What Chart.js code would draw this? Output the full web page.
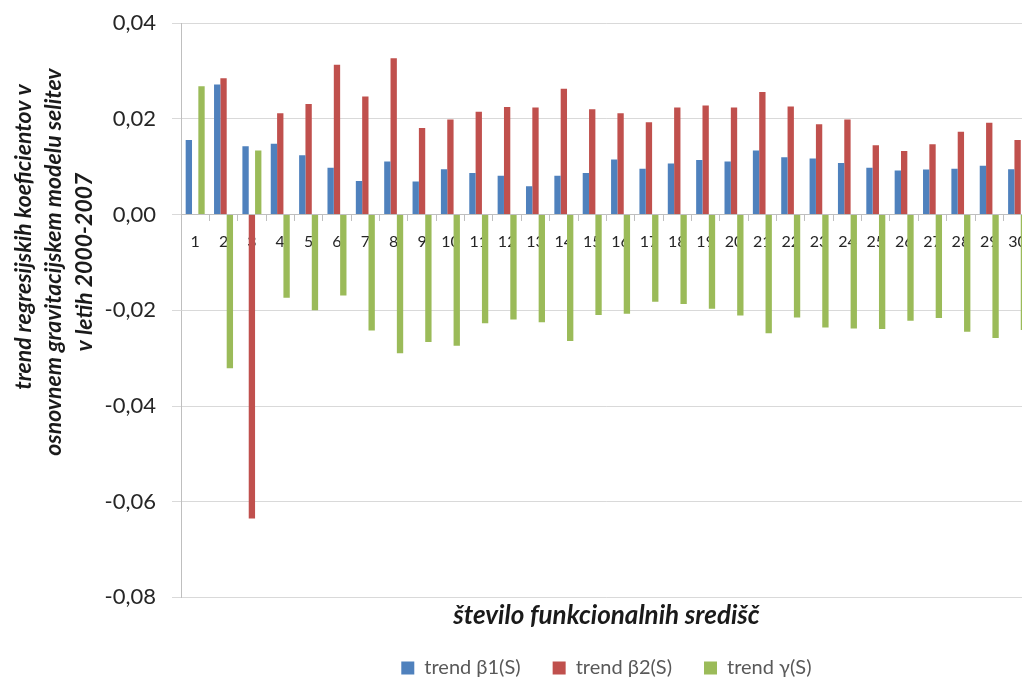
<!DOCTYPE html>
<html>
<head>
<meta charset="utf-8">
<script src="https://cdn.jsdelivr.net/npm/chart.js@4.4.1/dist/chart.umd.min.js"></script>
<style>
    html, body { margin: 0; padding: 0; overflow: hidden; background: #fff; }
    #trendChart { display: block; margin-top: -6px; }
</style>
</head>
<body>
<canvas id="trendChart" width="1039" height="694"></canvas>
<script>
var categories = ['1', '2', '3', '4', '5', '6', '7', '8', '9', '10', '11', '12', '13', '14', '15',
    '16', '17', '18', '19', '20', '21', '22', '23', '24', '25', '26', '27', '28', '29', '30'];
var beta1 = [0.0156, 0.0272, 0.0143, 0.0148, 0.0124, 0.0098, 0.0070, 0.0111, 0.0069, 0.0095,
    0.0087, 0.0081, 0.0059, 0.0081, 0.0087, 0.0115, 0.0096, 0.0107, 0.0114, 0.0111,
    0.0134, 0.0120, 0.0117, 0.0108, 0.0098, 0.0092, 0.0094, 0.0096, 0.0102, 0.0095];
var beta2 = [0, 0.0285, -0.0635, 0.0212, 0.0231, 0.0313, 0.0247, 0.0327, 0.0181, 0.0199,
    0.0215, 0.0225, 0.0224, 0.0263, 0.0220, 0.0212, 0.0193, 0.0224, 0.0228, 0.0224,
    0.0256, 0.0226, 0.0189, 0.0199, 0.0145, 0.0133, 0.0147, 0.0173, 0.0192, 0.0156];
var gamma = [0.0268, -0.0321, 0.0134, -0.0174, -0.0200, -0.0169, -0.0242, -0.0290, -0.0266, -0.0274,
    -0.0227, -0.0219, -0.0225, -0.0264, -0.0210, -0.0207, -0.0182, -0.0187, -0.0197, -0.0211,
    -0.0248, -0.0215, -0.0236, -0.0238, -0.0239, -0.0222, -0.0216, -0.0245, -0.0258, -0.0241];
var seriesNames = ['trend \u03b21(S)', 'trend \u03b22(S)', 'trend \u03b3(S)'];
var yTitleLines = ['trend regresijskih koeficientov v', 'osnovnem gravitacijskem modelu selitev', 'v letih 2000-2007'];
var xTitle = 'število funkcionalnih središč';

var FONT = "Lato, 'Open Sans', sans-serif";

// rotated y-axis title, three lines like the original
var yTitlePlugin = {
    id: 'yTitle',
    afterDraw: function(chart) {
        var ctx = chart.ctx;
        var xs = [24, 54, 85];
        var ys = [243, 268, 268];
        ctx.save();
        ctx.font = 'italic bold 23px ' + FONT;
        ctx.fillStyle = '#1a1a1a';
        ctx.textAlign = 'center';
        ctx.textBaseline = 'middle';
        yTitleLines.forEach(function(line, i) {
            ctx.save();
            ctx.translate(xs[i], ys[i]);
            ctx.rotate(-Math.PI / 2);
            ctx.fillText(line, 0, 0);
            ctx.restore();
        });
        ctx.restore();
    }
};

var ctx = document.getElementById('trendChart').getContext('2d');
new Chart(ctx, {
    type: 'bar',
    data: {
        labels: categories,
        datasets: [
            { label: seriesNames[0], data: beta1, backgroundColor: '#4f81bd' },
            { label: seriesNames[1], data: beta2, backgroundColor: '#c0504d' },
            { label: seriesNames[2], data: gamma, backgroundColor: '#9bbb59' }
        ]
    },
    options: {
        responsive: false,
        animation: false,
        datasets: { bar: { categoryPercentage: 0.67, barPercentage: 1.0, borderWidth: 0 } },
        layout: { padding: { top: 0, right: 0, left: 0, bottom: 0 } },
        scales: {
            x: {
                position: { y: 0 },
                z: 1,
                grid: { drawOnChartArea: false, drawTicks: true, tickLength: 6, tickColor: '#bfbfbf', offset: true },
                border: { display: true, color: '#bfbfbf' },
                ticks: { color: '#262626', padding: 12, maxRotation: 0, autoSkip: false, font: { family: FONT, size: 16 } }
            },
            y: {
                min: -0.08,
                max: 0.04,
                afterFit: function(scale) { scale.width = 181; },
                grid: { color: '#d9d9d9', tickColor: '#d9d9d9', tickLength: 9 },
                border: { display: true, color: '#bfbfbf' },
                ticks: {
                    stepSize: 0.02,
                    padding: 16,
                    color: '#262626',
                    font: { family: FONT, size: 22 },
                    callback: function(v) { return v.toFixed(2).replace('.', ','); }
                }
            }
        },
        plugins: {
            title: {
                display: true,
                position: 'bottom',
                text: xTitle,
                fullSize: false,
                weight: 500,
                color: '#1a1a1a',
                padding: { top: 3, bottom: -5.6 },
                font: { family: FONT, size: 26, weight: 'bold', style: 'italic' }
            },
            legend: {
                position: 'bottom',
                fullSize: false,
                labels: { boxWidth: 13, boxHeight: 13, padding: 32, color: '#595959', font: { family: FONT, size: 20 } }
            },
            tooltip: { enabled: false }
        }
    },
    plugins: [yTitlePlugin]
});
</script>
</body>
</html>
